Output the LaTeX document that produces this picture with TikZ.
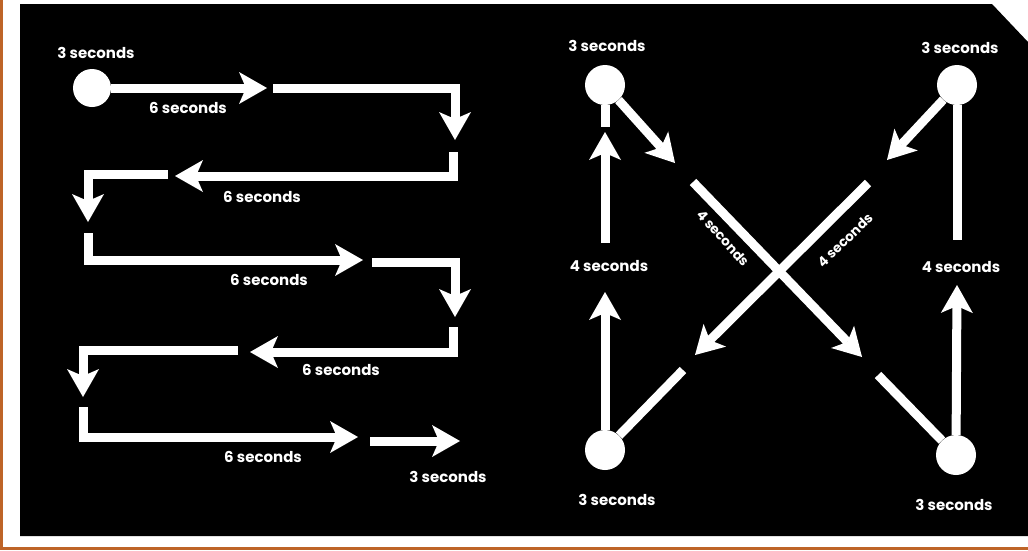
\documentclass[tikz,border=0pt]{standalone}
\usepackage{fontspec}
\setmainfont{Poppins}
\usetikzlibrary{arrows.meta}
\definecolor{framec}{RGB}{190,100,40}
\begin{document}
\begin{tikzpicture}[x=1pt,y=-1pt,
 arr/.style={draw=white, line width=9pt, line join=miter, -{Stealth[length=28pt,width=32pt,inset=7pt,line width=0pt]}},
 seg/.style={draw=white, line width=9pt, line join=miter},
 dot/.style={circle, fill=white, minimum size=40pt, inner sep=0pt},
 lbl/.style={text=white, font=\bfseries\fontsize{15}{17}\selectfont, inner sep=0pt},
 rlbl/.style={text=white, font=\bfseries\fontsize{13.5}{15}\selectfont, inner sep=0pt},
]
\useasboundingbox (0,0) rectangle (1028,550);
\fill[white] (0,0) rectangle (1028,550);
\fill[framec] (0,0) rectangle (2.5,550);
\fill[framec] (0,546.5) rectangle (1028,550);
\fill[black] (20,4) -- (992,4) -- (1028,42) -- (1028,536) -- (20,536) -- cycle;

% ---------- left panel ----------
\node[dot, minimum size=38pt] (s0) at (92,88) {};
\node[lbl] (l0) at (96,53) {3 seconds};
\coordinate (a1) at (267,88);
\draw[arr] (s0) -- (a1);
\node[lbl] (l1) at (188,108) {6 seconds};

\coordinate (b0) at (273,88); \coordinate (b1) at (455,88); \coordinate (b2) at (455,140);
\draw[arr] (b0) -- (b1) -- (b2);

\coordinate (c0) at (453,152); \coordinate (c1) at (453,176); \coordinate (c2) at (175,176);
\draw[arr] (c0) -- (c1) -- (c2);
\node[lbl] (l2) at (262,197) {6 seconds};

\coordinate (d0) at (168,174); \coordinate (d1) at (88,174); \coordinate (d2) at (88,222);
\draw[arr] (d0) -- (d1) -- (d2);

\coordinate (e0) at (88,233); \coordinate (e1) at (88,260); \coordinate (e2) at (363,260);
\draw[arr] (e0) -- (e1) -- (e2);
\node[lbl] (l3) at (269,280) {6 seconds};

\coordinate (f0) at (372,262); \coordinate (f1) at (455,262); \coordinate (f2) at (455,317);
\draw[arr] (f0) -- (f1) -- (f2);

\coordinate (g0) at (453,327); \coordinate (g1) at (453,352); \coordinate (g2) at (250,352);
\draw[arr] (g0) -- (g1) -- (g2);
\node[lbl] (l4) at (341,370) {6 seconds};

\coordinate (h0) at (238,350); \coordinate (h1) at (83,350); \coordinate (h2) at (83,397);
\draw[arr] (h0) -- (h1) -- (h2);

\coordinate (i0) at (83,407); \coordinate (i1) at (83,437); \coordinate (i2) at (358,437);
\draw[arr] (i0) -- (i1) -- (i2);
\node[lbl] (l5) at (263,457) {6 seconds};

\coordinate (j0) at (370,441); \coordinate (j1) at (460,441);
\draw[arr] (j0) -- (j1);
\node[lbl] (l6) at (448,477) {3 seconds};

% ---------- right panel ----------
\node[dot] (tl) at (605,85) {};
\node[dot] (tr) at (957,85) {};
\node[dot] (bl) at (605,450) {};
\node[dot] (br) at (956,455) {};
\node[lbl] (ltl) at (607,46) {3 seconds};
\node[lbl] (ltr) at (960,48) {3 seconds};
\node[lbl] (lbl1) at (617,500) {3 seconds};
\node[lbl] (lbr) at (954,505) {3 seconds};

% left side
\coordinate (p0) at (605,127);
\draw[seg] (tl) -- (p0);
\coordinate (p1) at (605,243); \coordinate (p2) at (605,132);
\draw[arr] (p1) -- (p2);
\node[lbl] (l4a) at (609,266) {4 seconds};
\coordinate (p3) at (605,292);
\draw[arr] (bl) -- (p3);

% right side
\coordinate (q0) at (957,240);
\draw[seg] (tr) -- (q0);
\node[lbl] (l4b) at (961,267) {4 seconds};
\coordinate (q1) at (957,285);
\draw[arr] (br) -- (q1);

% diagonals from top circles
\coordinate (r0) at (675,163);
\draw[arr] (tl) -- (r0);
\coordinate (r1) at (887,160);
\draw[arr] (tr) -- (r1);

% crossing lines
\coordinate (x0) at (693,182); \coordinate (x1) at (862,357);
\draw[arr] (x0) -- (x1);
\coordinate (y0) at (868,183); \coordinate (y1) at (695,355);
\draw[arr] (y0) -- (y1);
\node[rlbl, rotate=-48] (l4c) at (723,238) {4 seconds};
\node[rlbl, rotate=44] (l4d) at (845,240) {4 seconds};

% lines to bottom circles
\coordinate (z0) at (683,370);
\draw[seg] (z0) -- (bl);
\coordinate (z1) at (878,375);
\draw[seg] (z1) -- (br);
\end{tikzpicture}
\end{document}
